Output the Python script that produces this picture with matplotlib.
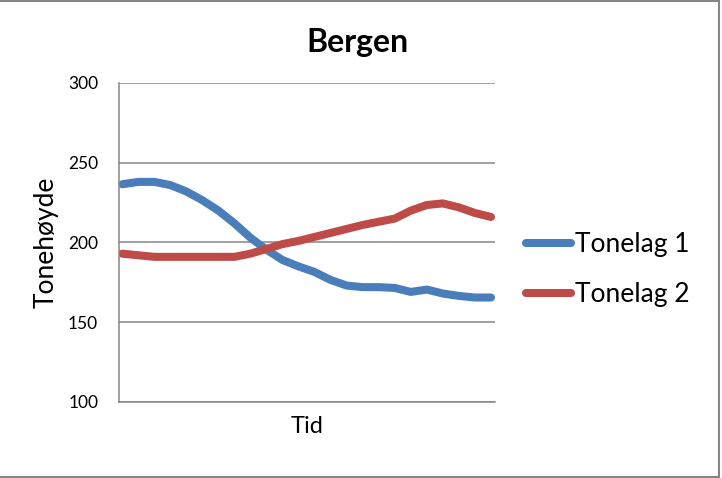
import numpy as np
import matplotlib.pyplot as plt
from matplotlib.lines import Line2D

plt.rcParams['font.family'] = ['Lato', 'DejaVu Sans']

# --- data ---
tonelag_1 = [236.5, 238, 238, 236, 232, 226.5, 220, 212, 203, 195.5, 189, 185,
             181.5, 176.5, 173, 172, 172, 171.5, 169, 170.5, 168, 166.5, 165.5, 165.5]
tonelag_2 = [193, 192, 191, 191, 191, 191, 191, 191, 193, 196, 199, 201,
             203.5, 206, 208.5, 211, 213, 215, 220, 223.5, 224.5, 222, 218.5, 216]
series_names = ['Tonelag 1', 'Tonelag 2']
colors = ['#4A7EBB', '#BE4B48']
y_ticks = [100, 150, 200, 250, 300]

fig = plt.figure(figsize=(7.22, 4.78), dpi=100)
ax = fig.add_axes([0.1648, 0.159, 0.5208, 0.6674])

x = np.arange(len(tonelag_1))
for vals, name, c in zip([tonelag_1, tonelag_2], series_names, colors):
    ax.plot(x, vals, color=c, lw=5.8, solid_capstyle='round',
            solid_joinstyle='round', label=name)

ax.set_ylim(100, 300)
ax.set_xlim(-0.2, len(x) - 0.75)
ax.set_yticks(y_ticks)
ax.set_xticks([])
ax.tick_params(axis='y', length=0, labelsize=12.5, pad=15)
ax.grid(axis='y', color='#868686', lw=1.1)
ax.set_axisbelow(True)
for s in ['top', 'right']:
    ax.spines[s].set_visible(False)
for s in ['left', 'bottom']:
    ax.spines[s].set_color('#868686')
    ax.spines[s].set_linewidth(1.1)

ax.set_title('Bergen', fontsize=23, fontweight='bold', x=0.633, pad=22)
ax.set_ylabel('Tonehøyde', fontsize=19, labelpad=7)
ax.set_xlabel('Tid', fontsize=17, labelpad=10)

ax.legend(loc='center left', bbox_to_anchor=(1.02, 0.415), frameon=False,
          fontsize=19, handlelength=1.7, handletextpad=0.15, labelspacing=0.95)

# chart frame (top, right, bottom)
fig.add_artist(Line2D([0, 0.9965], [0.998, 0.998], color='#868686', lw=1.5))
fig.add_artist(Line2D([0.9965, 0.9965], [0.003, 0.998], color='#868686', lw=1.5))
fig.add_artist(Line2D([0, 0.9965], [0.003, 0.003], color='#868686', lw=1.5))

fig.savefig('out.png', dpi=100)
